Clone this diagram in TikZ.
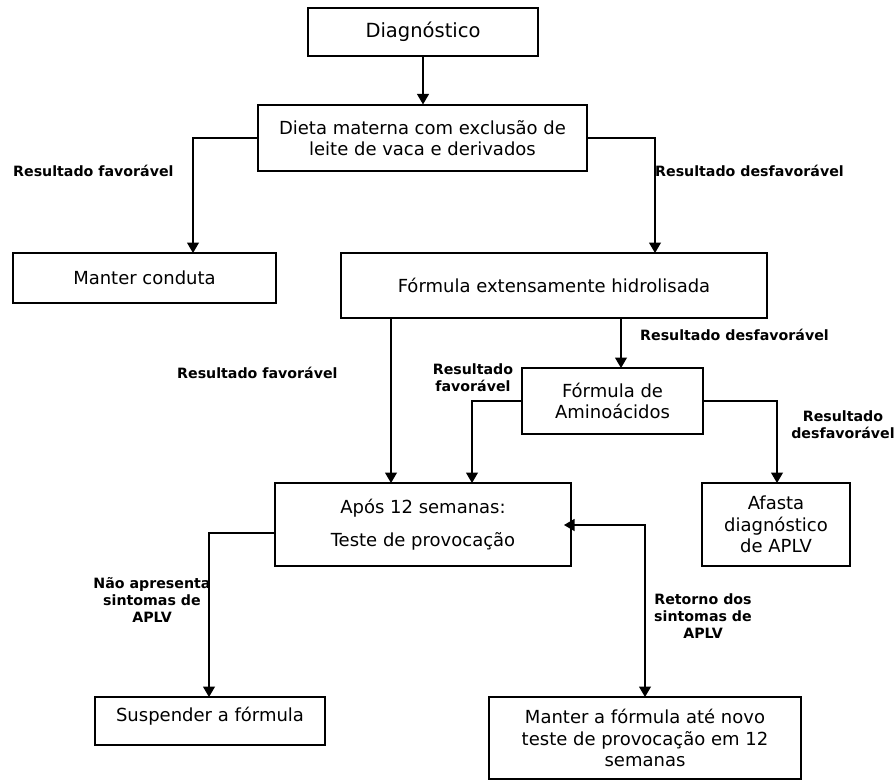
\documentclass[tikz,border=0pt]{standalone}
\usepackage{fontspec}
\setmainfont{DejaVu Sans}
\usetikzlibrary{arrows.meta}
\begin{document}
\begin{tikzpicture}[x=1pt,y=-1pt,
  box/.style={draw, line width=1.2pt, inner sep=0pt, align=center,
    font=\fontsize{18}{21.5}\selectfont},
  lab/.style={inner sep=0pt, align=center, font=\fontsize{14.2}{16.8}\selectfont\bfseries},
  arr/.style={line width=1.1pt, -{Triangle[length=10.5pt,width=12pt]}},
  darr/.style={line width=1.1pt, {Triangle[length=10.5pt,width=12pt]}-{Triangle[length=10.5pt,width=12pt]}}]
\useasboundingbox (0,0) rectangle (894,780);
% boxes
\node[box, minimum width=230, minimum height=48, font=\fontsize{19.5}{22}\selectfont] (diag) at (423,32) {Diagnóstico};
\node[box, minimum width=329, minimum height=66] (dieta) at (422.5,138) {Dieta materna com exclusão de\\leite de vaca e derivados};
\node[box, minimum width=263, minimum height=50] (manter) at (144.5,278) {Manter conduta};
\node[box, minimum width=426, minimum height=65] (fext) at (554,285.5) {Fórmula extensamente hidrolisada};
\node[box, minimum width=181, minimum height=66] (amino) at (612.5,401) {Fórmula de\\Aminoácidos};
\node[box, minimum width=296, minimum height=83, font=\fontsize{18}{33}\selectfont] (apos) at (423,524.5) {Após 12 semanas:\\Teste de provocação};
\node[box, minimum width=148, minimum height=83] (afasta) at (776,524.5) {Afasta\\diagnóstico\\de APLV};
\node[box, minimum width=230, minimum height=48, text depth=14pt] (susp) at (210,721) {Suspender a fórmula};
\node[box, minimum width=312, minimum height=82] (manterf) at (645,738) {Manter a fórmula até novo\\teste de provocação em 12\\semanas};
% connector end points
\coordinate (c1) at (193,253);
\coordinate (c2) at (655,253);
\coordinate (c3) at (391,318);
\coordinate (c4) at (391,483);
\coordinate (c5) at (621,318);
\coordinate (c6) at (621,368);
\coordinate (c7) at (472,483);
\coordinate (c8) at (777,483);
\coordinate (c9) at (209,697);
\coordinate (c10) at (564,525);
\coordinate (c11) at (645,697);
\coordinate (c12) at (275,533);
% connectors
\draw[arr] (diag.south) -- (diag.south |- dieta.north);
\draw[arr] (dieta.west) -| (c1);
\draw[arr] (dieta.east) -| (c2);
\draw[arr] (c3) -- (c4);
\draw[arr] (c5) -- (c6);
\draw[arr] (amino.west) -| (c7);
\draw[arr] (amino.east) -| (c8);
\draw[arr] (c12) -| (c9);
\draw[darr] (c10) -| (c11);
% labels
\node[lab, anchor=west] (l1) at (13,171) {Resultado favorável};
\node[lab, anchor=west] (l2) at (655,171) {Resultado desfavorável};
\node[lab, anchor=west] (l3) at (640,335) {Resultado desfavorável};
\node[lab] (l4) at (473,378) {Resultado\\favorável};
\node[lab, anchor=west] (l5) at (177,373) {Resultado favorável};
\node[lab] (l6) at (843,425) {Resultado\\desfavorável};
\node[lab] (l7) at (152,600) {Não apresenta\\sintomas de\\APLV};
\node[lab] (l8) at (703,616) {Retorno dos\\sintomas de\\APLV};
\end{tikzpicture}
\end{document}
